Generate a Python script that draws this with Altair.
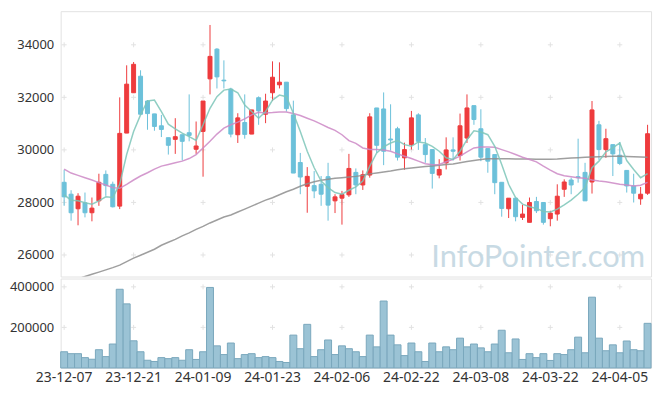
import altair as alt
import pandas as pd

dates = [
    "23-12-07", "23-12-08", "23-12-11", "23-12-12", "23-12-13", "23-12-14", "23-12-15",
    "23-12-18", "23-12-19", "23-12-20", "23-12-21", "23-12-22", "23-12-26", "23-12-27", "23-12-28",
    "24-01-02", "24-01-03", "24-01-04", "24-01-05", "24-01-08", "24-01-09", "24-01-10", "24-01-11",
    "24-01-12", "24-01-15", "24-01-16", "24-01-17", "24-01-18", "24-01-19", "24-01-22", "24-01-23",
    "24-01-24", "24-01-25", "24-01-26", "24-01-29", "24-01-30", "24-01-31",
    "24-02-01", "24-02-02", "24-02-05", "24-02-06", "24-02-07", "24-02-08", "24-02-13", "24-02-14",
    "24-02-15", "24-02-16", "24-02-19", "24-02-20", "24-02-21", "24-02-22", "24-02-23", "24-02-26",
    "24-02-27", "24-02-28", "24-02-29",
    "24-03-04", "24-03-05", "24-03-06", "24-03-07", "24-03-08", "24-03-11", "24-03-12", "24-03-13",
    "24-03-14", "24-03-15", "24-03-18", "24-03-19", "24-03-20", "24-03-21", "24-03-22", "24-03-25",
    "24-03-26", "24-03-27", "24-03-28", "24-03-29",
    "24-04-01", "24-04-02", "24-04-03", "24-04-04", "24-04-05", "24-04-08", "24-04-09", "24-04-11",
    "24-04-12",
]

opens = [28766, 28313, 27759, 27986, 27608, 28061, 29068, 28690, 27860, 30640,
         32175, 32804, 31860, 31370, 30917, 30464, 30401, 30577, 30653, 30024,
         30703, 32703, 33835, 32653, 32313, 30577, 31043, 30602, 31986, 31357,
         32175, 32477, 32577, 31332, 29520, 28615, 28640, 28690, 28980, 28061,
         28162, 28288, 29143, 28665, 29042, 31596, 31558, 30414, 30804, 29697,
         30200, 31332, 30200, 30011, 29042, 29508, 30000, 29785, 30451, 31684,
         30804, 30049, 29822, 28766, 27759, 28162, 27432, 27243, 28036, 27998,
         27382, 27558, 28501, 28854, 28980, 29143, 28778, 30955, 30011, 30200,
         29797, 29219, 28627, 28137, 28351]
highs = [29244, 28464, 28351, 28376, 28187, 29093, 29219, 28791, 31999, 33219,
         33345, 33030, 31898, 31370, 31332, 30464, 31206, 30577, 32112, 31080,
         31860, 34754, 33873, 33408, 32364, 31395, 32112, 31521, 32036, 32137,
         33370, 33332, 32577, 31873, 29885, 29344, 29193, 29005, 29508, 28313,
         28439, 29848, 29294, 29219, 31395, 31596, 32187, 31735, 30879, 30275,
         31483, 31395, 30451, 30011, 29646, 30477, 30477, 31382, 32112, 31684,
         31546, 30049, 29822, 28766, 28162, 28162, 27910, 28187, 28212, 27998,
         27684, 28690, 28879, 28942, 30426, 29508, 31860, 31106, 30804, 30200,
         30300, 29219, 29093, 28590, 30955]
lows = [27872, 27306, 27130, 27432, 27281, 27872, 28250, 27810, 27747, 30640,
        32175, 31357, 30766, 30728, 30489, 29822, 29848, 29596, 30326, 29848,
        28980, 32112, 32338, 32338, 30477, 30263, 30426, 30602, 30955, 31017,
        31860, 32338, 31458, 29118, 28313, 27608, 28162, 27872, 27306, 27596,
        27155, 28212, 28313, 28476, 28942, 29885, 29420, 29973, 29596, 29244,
        30011, 29999, 29508, 28527, 28917, 29256, 29596, 29596, 30263, 30955,
        29571, 29130, 28313, 27457, 27407, 27281, 27332, 27243, 27596, 27155,
        27093, 27306, 28212, 28313, 28753, 28061, 28338, 29621, 29697, 29005,
        29420, 28376, 27998, 27910, 28288]
closes = [28212, 27608, 28237, 27608, 27784, 28766, 28640, 27835, 30628, 32502,
          33257, 31357, 31382, 30892, 30778, 30175, 30502, 30326, 30552, 30149,
          31860, 33559, 32779, 32628, 30602, 31219, 30590, 31521, 31483, 31860,
          32766, 32577, 31571, 29118, 28967, 28992, 28439, 28313, 27898, 28212,
          28300, 29294, 28665, 29055, 31257, 30175, 29948, 30376, 29722, 30011,
          31219, 30326, 29822, 29105, 29256, 29999, 29948, 30917, 31596, 31156,
          29722, 29571, 28753, 27772, 28162, 27457, 27558, 27998, 27684, 27243,
          27596, 28237, 28778, 28665, 28942, 28061, 31521, 30011, 30426, 29848,
          29483, 28627, 28351, 28313, 30615]

ma5 = [28288, 28086, 28061, 27986, 27935, 28061, 28212, 28187, 28690, 29822,
       30703, 31332, 31860, 31898, 31458, 30980, 30804, 30640, 30502, 30363,
       30955, 31584, 32024, 32276, 32313, 32175, 31709, 31458, 31206, 31458,
       31898, 32087, 32024, 31395, 30703, 29948, 29319, 28816, 28564, 28376,
       28313, 28464, 28590, 28816, 29382, 29885, 30112, 30263, 30351, 30200,
       30137, 30301, 30263, 30137, 29948, 29697, 29634, 29948, 30389, 30728,
       30678, 30577, 30137, 29445, 28690, 28187, 27935, 27835, 27772, 27659,
       27634, 27747, 27910, 28086, 28313, 28564, 29319, 29571, 29923, 30074,
       30263, 29596, 29256, 28942, 29093]
ma20 = [29269, 29118, 29030, 28942, 28854, 28753, 28665, 28564, 28539, 28690,
        28854, 29005, 29130, 29269, 29382, 29445, 29508, 29571, 29671, 29822,
        30074, 30326, 30602, 30829, 30955, 31055, 31181, 31332, 31433, 31408,
        31420, 31445, 31445, 31382, 31307, 31206, 31106, 30980, 30854, 30741,
        30577, 30351, 30250, 30074, 30011, 30011, 29999, 29948, 29848, 29760,
        29671, 29571, 29470, 29432, 29445, 29546, 29646, 29760, 29923, 30074,
        30112, 30112, 30099, 30011, 29923, 29822, 29722, 29634, 29546, 29382,
        29231, 29093, 29017, 28980, 28942, 28917, 28854, 28816, 28791, 28740,
        28690, 28665, 28627, 28652, 28766]
ma60 = [24916, 25003, 25090, 25181, 25264, 25347, 25433, 25520, 25615, 25747,
        25879, 25992, 26105, 26219, 26369, 26483, 26596, 26728, 26841, 26973,
        27087, 27219, 27332, 27445, 27520, 27634, 27747, 27860, 27973, 28087,
        28181, 28294, 28407, 28502, 28615, 28709, 28785, 28841, 28879, 28917,
        28943, 28970, 28992, 29030, 29087, 29124, 29162, 29200, 29245, 29283,
        29313, 29340, 29370, 29389, 29415, 29445, 29464, 29513, 29558, 29596,
        29634, 29660, 29664, 29664, 29660, 29657, 29653, 29649, 29645, 29641,
        29641, 29653, 29672, 29691, 29702, 29717, 29732, 29743, 29747, 29755,
        29758, 29747, 29736, 29728, 29721]

volumes = [80000, 70500, 70500, 51000, 43000, 90000, 56000, 118000, 388000, 316000,
           134000, 80000, 38000, 32000, 51000, 46000, 51000, 38000, 90000, 42000,
           80000, 397000, 109000, 66000, 123000, 46000, 66000, 70500, 51000, 56000,
           51000, 32000, 27000, 162000, 95000, 215000, 56000, 90000, 138000, 66000,
           109000, 95000, 80000, 56000, 162000, 104000, 330000, 162000, 114000, 61000,
           123000, 80000, 32000, 123000, 80000, 104000, 90000, 147000, 104000, 118000,
           99000, 80000, 118000, 186000, 75000, 143000, 42000, 70500, 51000, 70500,
           37000, 70500, 66000, 90000, 152000, 75000, 349000, 147000, 85000, 114000,
           75000, 133000, 90000, 85000, 220000]

price_ticks = [26000, 28000, 30000, 32000, 34000]
volume_ticks = [200000, 400000]
label_dates = dates[::10]
watermark = "InfoPointer.com"

RED = "#ee3b3d"
BLUE = "#6cc1da"
FONT = "Noto Sans"

df = pd.DataFrame({
    "date": dates, "open": opens, "high": highs, "low": lows, "close": closes,
    "ma5": ma5, "ma20": ma20, "ma60": ma60, "volume": volumes,
})

xscale = alt.Scale(type="band", domain=dates, paddingInner=0, paddingOuter=0)
x_top = alt.X("date:O", scale=xscale, axis=None, sort=dates)
yscale = alt.Scale(domain=[25180, 35280], nice=False, zero=False)
candle_color = alt.condition("datum.close >= datum.open", alt.value(RED), alt.value(BLUE))

base = alt.Chart(df)
wicks = base.mark_rule(strokeWidth=1).encode(
    x=x_top,
    y=alt.Y("low:Q", scale=yscale,
            axis=alt.Axis(values=price_ticks, format="d", title=None)),
    y2="high:Q",
    color=candle_color,
)
bodies = base.mark_bar(size=4, strokeWidth=1).encode(
    x=x_top, y=alt.Y("open:Q", scale=yscale), y2="close:Q",
    color=candle_color, stroke=candle_color,
)
line5 = base.mark_line(color="#7cc5b9", strokeWidth=1.5, opacity=0.85).encode(
    x=x_top, y=alt.Y("ma5:Q", scale=yscale))
line20 = base.mark_line(color="#cc88c6", strokeWidth=1.5, opacity=0.85).encode(
    x=x_top, y=alt.Y("ma20:Q", scale=yscale))
line60 = base.mark_line(color="#8e8e8e", strokeWidth=1.5, opacity=0.85, clip=True).encode(
    x=x_top, y=alt.Y("ma60:Q", scale=yscale))

cross_shape = "M-1,0L1,0M0,-1L0,1"
cross_top = pd.DataFrame([(d, v) for d in label_dates for v in price_ticks], columns=["date", "v"])
crosses_top = alt.Chart(cross_top).mark_point(
    shape=cross_shape, size=25, color="#e2e2e2", strokeWidth=1, filled=False, opacity=1
).encode(x=x_top, y=alt.Y("v:Q", scale=yscale))

wm = alt.Chart(pd.DataFrame({"t": [watermark]})).mark_text(
    font="Lato", fontSize=31, color="#c3d7e2", align="right", baseline="alphabetic", opacity=0.9
).encode(text="t:N", x=alt.value(588), y=alt.value(257))

top = alt.layer(crosses_top, wm, wicks, bodies, line60, line20, line5).properties(width=594, height=267)

vscale = alt.Scale(domain=[0, 441000], nice=False)
x_bot = alt.X("date:O", scale=xscale, sort=dates,
              axis=alt.Axis(values=label_dates, labelAngle=0, title=None, labelPadding=3,
                            labelFontSize=14))
vol = base.mark_bar(color="#9bc3d5", stroke="#7aa7bc", strokeWidth=1).encode(
    x=x_bot,
    y=alt.Y("volume:Q", scale=vscale,
            axis=alt.Axis(values=volume_ticks, format="d", title=None)),
)
cross_bot = pd.DataFrame([(d, v) for d in label_dates for v in volume_ticks], columns=["date", "v"])
crosses_bot = alt.Chart(cross_bot).mark_point(
    shape=cross_shape, size=25, color="#e2e2e2", strokeWidth=1, filled=False, opacity=1
).encode(x=x_bot, y=alt.Y("v:Q", scale=vscale))
bottom = alt.layer(crosses_bot, vol).properties(width=594, height=90)

chart = alt.vconcat(top, bottom, spacing=0).resolve_scale(x="shared").properties(
    padding={"left": 0, "top": 1, "right": 5, "bottom": 5}
).configure_view(
    stroke="#e2e2e2"
).configure_axis(
    ticks=False, domain=False, grid=False, labelFont=FONT, labelFontSize=13,
    labelColor="#333333", labelPadding=7,
)

chart.save("out.html", embed_options={"renderer": "svg", "actions": False})
